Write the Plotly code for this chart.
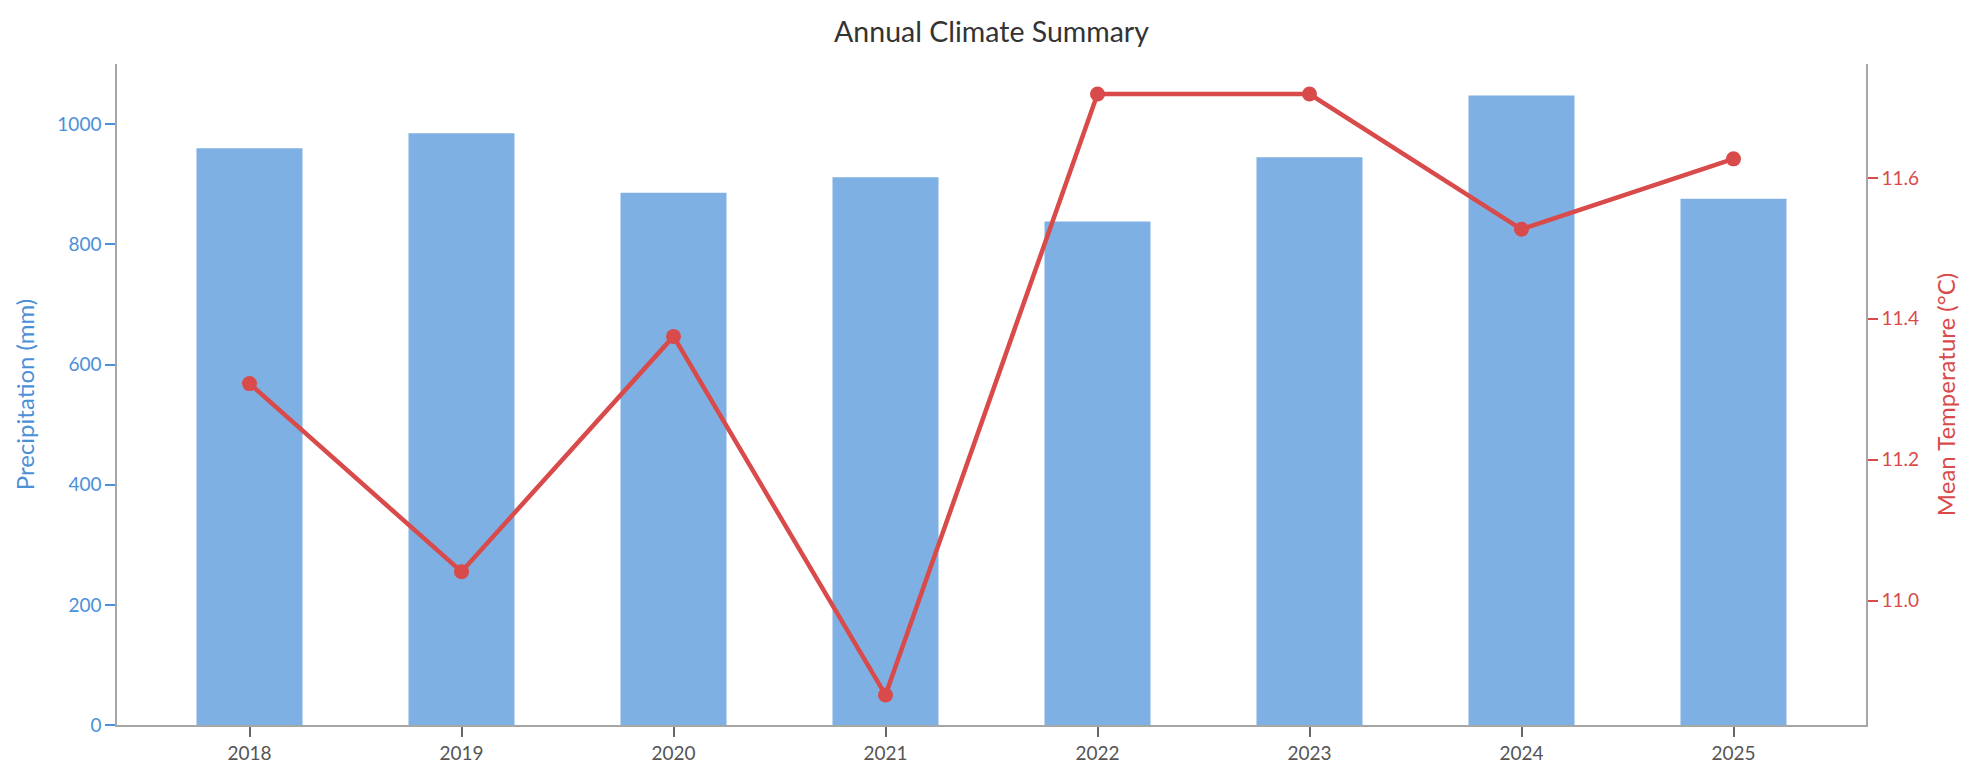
import plotly.graph_objects as go

years = ["2018", "2019", "2020", "2021", "2022", "2023", "2024", "2025"]
precip_mm = [960, 985, 886, 912, 838, 945, 1048, 876]
mean_temp_c = [11.308, 11.041, 11.375, 10.866, 11.719, 11.719, 11.527, 11.627]

BLUE_BAR = "#7FB0E3"
BLUE_TXT = "#4A90D9"
RED = "#D94A4A"
GREY = "#A6A6A6"
FONT = "Lato, 'Open Sans', sans-serif"

fig = go.Figure()
fig.add_trace(go.Bar(x=years, y=precip_mm, width=0.5, marker=dict(color=BLUE_BAR, line=dict(width=0)),
                     name="Precipitation", yaxis="y"))
fig.add_trace(go.Scatter(x=years, y=mean_temp_c, mode="lines+markers", yaxis="y2",
                         line=dict(color=RED, width=4.5), marker=dict(color=RED, size=15),
                         name="Mean Temperature"))

tmin, tmax = min(mean_temp_c), max(mean_temp_c)
pad = (tmax - tmin) * 0.05

fig.update_layout(
    width=1977, height=784,
    margin=dict(l=117, r=111, t=64, b=59),
    paper_bgcolor="white", plot_bgcolor="white",
    showlegend=False,
    font=dict(family=FONT),
    title=dict(text="Annual Climate Summary", x=0.5, xref="paper", xanchor="center",
               y=1 - 32 / 784, yref="container", yanchor="middle",
               font=dict(size=28.5, color="#333333", family=FONT)),
    xaxis=dict(type="category", range=[-0.625, 7.625], showgrid=False, zeroline=False,
               showline=True, linecolor=GREY, linewidth=1.5, mirror=False,
               ticks="outside", ticklen=10, tickwidth=1.5, tickcolor="#666666",
               tickfont=dict(size=19, color="#555555", family=FONT)),
    yaxis=dict(range=[0, max(precip_mm) * 1.05], showgrid=False, zeroline=False,
               showline=True, linecolor=GREY, linewidth=1.5,
               ticks="outside", ticklen=10, tickwidth=1.5, tickcolor=BLUE_TXT,
               tickvals=[0, 200, 400, 600, 800, 1000],
               tickfont=dict(size=19, color=BLUE_TXT, family=FONT),
               title=dict(text="Precipitation (mm)", font=dict(size=24, color=BLUE_TXT, family=FONT),
                          standoff=16)),
    yaxis2=dict(overlaying="y", side="right", range=[tmin - pad, tmax + pad],
                showgrid=False, zeroline=False, showline=True, linecolor=GREY, linewidth=1.5,
                ticks="outside", ticklen=10, tickwidth=1.5, tickcolor=RED,
                tickvals=[11.0, 11.2, 11.4, 11.6], tickformat=".1f",
                tickfont=dict(size=19, color=RED, family=FONT),
                title=dict(text="Mean Temperature (°C)", font=dict(size=24, color=RED, family=FONT),
                           standoff=20)),
)

fig.write_html("out.html")
